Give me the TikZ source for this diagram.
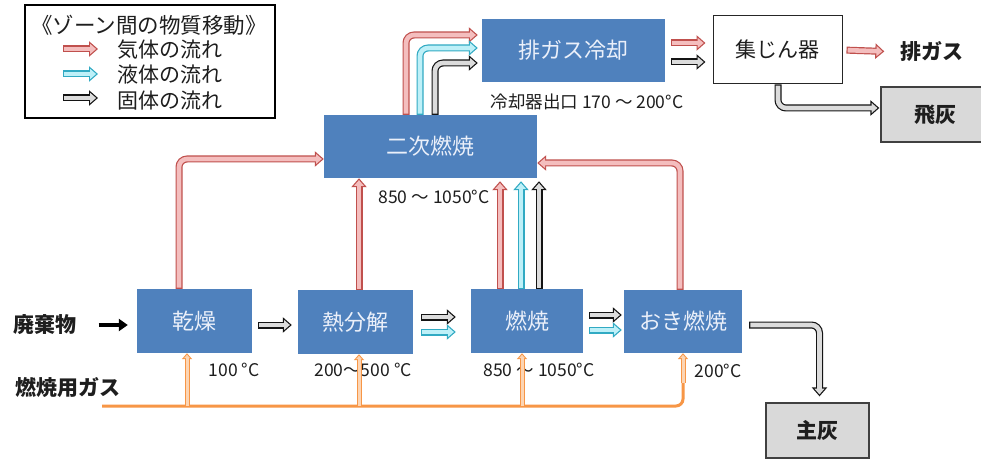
\documentclass[tikz,border=0pt]{standalone}
\usepackage{fontspec}
\setmainfont{Noto Sans CJK JP}
\usetikzlibrary{arrows.meta}
\definecolor{boxblue}{RGB}{79,129,189}
\definecolor{boxtext}{RGB}{235,240,250}
\definecolor{gasline}{RGB}{192,80,77}
\definecolor{gasfill}{RGB}{244,190,190}
\definecolor{liqline}{RGB}{49,170,195}
\definecolor{liqfill}{RGB}{190,240,248}
\definecolor{solline}{RGB}{20,20,20}
\definecolor{solfill}{RGB}{220,220,220}
\definecolor{orline}{RGB}{247,150,70}
\definecolor{orfill}{RGB}{252,213,180}
\definecolor{ashgray}{RGB}{217,217,217}
\definecolor{txt}{RGB}{30,30,30}
% block arrow: outline colour, fill colour, start shortening, end shortening, path
\newcommand{\blockflow}[5]{%
  \draw[flowout, draw=#1, shorten <=#3, shorten >=#4] #5;
  \draw[flowin, draw=#2, shorten <=#3+1.2pt, shorten >=#4+1.9pt] #5;}
\newcommand{\smallflow}[2]{%
  \draw[orout, shorten >=0pt] #2;
  \draw[orin, shorten >=1.6pt] #2;}
\begin{document}
\begin{tikzpicture}[x=1pt,y=-1pt,
  bluebox/.style={fill=boxblue, draw=none, inner sep=0pt, text=boxtext, font=\fontsize{22}{26}\selectfont},
  graybox/.style={fill=ashgray, draw=black!75, line width=1.3pt, inner sep=0pt, text=txt, font=\fontsize{21}{25}\selectfont\bfseries},
  whitebox/.style={fill=white, draw=black!85, line width=1pt, inner sep=0pt, text=txt, font=\fontsize{21}{25}\selectfont},
  lbl/.style={text=txt, inner sep=0pt, font=\fontsize{21}{25}\selectfont},
  blbl/.style={text=txt, inner sep=0pt, font=\fontsize{21}{25}\selectfont\bfseries},
  temp/.style={text=txt, inner sep=0pt, font=\fontsize{17.5}{20}\selectfont},
  flowout/.style={line width=7pt, rounded corners=8pt, -{Triangle[length=9pt,width=15pt]}},
  flowin/.style={line width=4.6pt, rounded corners=8pt, -{Triangle[length=5.9pt,width=9.9pt]}},
  orout/.style={draw=orline, line width=5pt, -{Triangle[length=6pt,width=10pt]}},
  orin/.style={draw=orfill, line width=3pt, -{Triangle[length=3.4pt,width=5.7pt]}},
]
\useasboundingbox (0,0) rectangle (981,462);
\fill[white] (0,0) rectangle (981,462);

% legend
\node[draw=black, line width=1.2pt, minimum width=250pt, minimum height=113pt, inner sep=0pt] (legend) at (150,61.5) {};
\node[lbl, font=\fontsize{21.5}{25}\selectfont] (ltitle) at (149,25) {《ゾーン間の物質移動》};
\coordinate (la1) at (63,49); \coordinate (lb1) at (98,49);
\coordinate (la2) at (63,74); \coordinate (lb2) at (98,74);
\coordinate (la3) at (63,98); \coordinate (lb3) at (98,98);
\blockflow{gasline}{gasfill}{0pt}{0pt}{(la1) -- (lb1)}
\blockflow{liqline}{liqfill}{0pt}{0pt}{(la2) -- (lb2)}
\blockflow{solline}{solfill}{0pt}{0pt}{(la3) -- (lb3)}
\node[lbl, anchor=west] (lt1) at (117,50) {気体の流れ};
\node[lbl, anchor=west] (lt2) at (117,75) {液体の流れ};
\node[lbl, anchor=west] (lt3) at (117,101) {固体の流れ};

% boxes
\node[bluebox, minimum width=183pt, minimum height=63pt] (cool) at (573.5,50.5) {排ガス冷却};
\node[whitebox, minimum width=129pt, minimum height=68pt] (dust) at (777.5,50) {集じん器};
\node[graybox, minimum width=109pt, minimum height=55pt] (fly) at (935.5,114.5) {飛灰};
\node[blbl] (exh) at (932,52) {排ガス};
\node[bluebox, minimum width=213pt, minimum height=63pt] (sec) at (430.5,146.5) {二次燃焼};
\node[bluebox, minimum width=115pt, minimum height=64pt] (dry) at (194.5,321) {乾燥};
\node[bluebox, minimum width=115pt, minimum height=64pt] (pyro) at (355.5,322) {熱分解};
\node[bluebox, minimum width=112pt, minimum height=64pt] (comb) at (527,321) {燃焼};
\node[bluebox, minimum width=118pt, minimum height=63pt] (oki) at (683,321.5) {おき燃焼};
\node[graybox, minimum width=103pt, minimum height=55pt] (ash) at (817.5,430.5) {主灰};

% side labels
\node[blbl] (waste) at (45,325) {廃棄物};
\node[blbl] (gas) at (68,388) {燃焼用ガス};

% temperature labels
\node[temp] (t1) at (234,370) {100 °C};
\node[temp] (t2) at (363,370) {200～500 °C};
\node[temp] (t3) at (539,370) {850 ～ 1050°C};
\node[temp] (t4) at (718,371) {200°C};
\node[temp] (t5) at (434,197) {850 ～ 1050°C};
\node[temp] (t6) at (587,102) {冷却器出口 170 ～ 200°C};

% waste input
\draw[line width=4pt, -{Triangle[length=9pt,width=12pt]}, shorten <=22pt, shorten >=9pt] (waste.east) -- (dry.west |- waste.east);

% combustion gas supply
\coordinate (gstart) at (102,406);
\draw[orline, line width=3pt, rounded corners=7pt] (gstart) -| ([yshift=-30pt]oki.south);
\smallflow{}{([xshift=-7.5pt]dry.south |- gstart) -- ([xshift=-7.5pt]dry.south)}
\smallflow{}{([xshift=3.5pt]pyro.south |- gstart) -- ([xshift=3.5pt]pyro.south)}
\smallflow{}{([xshift=-5pt]comb.south |- gstart) -- ([xshift=-5pt]comb.south)}
\smallflow{}{([yshift=-30pt]oki.south) -- (oki.south)}

% bottom row transfers
\blockflow{solline}{solfill}{6pt}{6pt}{([yshift=-4pt]dry.east) -- ([yshift=-4pt]dry.east -| pyro.west)}
\blockflow{solline}{solfill}{8pt}{15pt}{([yshift=5pt]pyro.east) -- ([yshift=5pt]pyro.east -| comb.west)}
\blockflow{liqline}{liqfill}{8pt}{15pt}{([yshift=-10pt]pyro.east) -- ([yshift=-10pt]pyro.east -| comb.west)}
\blockflow{solline}{solfill}{6pt}{2pt}{([yshift=6pt]comb.east) -- ([yshift=6pt]comb.east -| oki.west)}
\blockflow{liqline}{liqfill}{6pt}{2pt}{([yshift=-9pt]comb.east) -- ([yshift=-9pt]comb.east -| oki.west)}
\blockflow{solline}{solfill}{7pt}{6pt}{([yshift=-3.5pt]oki.east) -| ([xshift=2pt]ash.north)}

% to secondary combustion
\blockflow{gasline}{gasfill}{0pt}{0pt}{([xshift=-15.5pt]dry.north) |- ([yshift=-12.5pt]sec.west)}
\blockflow{gasline}{gasfill}{0pt}{0pt}{([xshift=3.5pt]pyro.north) -- ([xshift=3.5pt]pyro.north |- sec.south)}
\blockflow{gasline}{gasfill}{0pt}{3pt}{([xshift=-27pt]comb.north) -- ([xshift=-27pt]comb.north |- sec.south)}
\blockflow{liqline}{liqfill}{0pt}{3pt}{([xshift=-6pt]comb.north) -- ([xshift=-6pt]comb.north |- sec.south)}
\blockflow{solline}{solfill}{0pt}{3pt}{([xshift=12pt]comb.north) -- ([xshift=12pt]comb.north |- sec.south)}
\blockflow{gasline}{gasfill}{0pt}{0pt}{([xshift=-3pt]oki.north) |- ([yshift=-16.5pt]sec.east)}

% to exhaust gas cooling
\blockflow{gasline}{gasfill}{0pt}{4pt}{([xshift=-24.5pt]sec.north) |- ([yshift=15.5pt]cool.west)}
\blockflow{liqline}{liqfill}{0pt}{4pt}{([xshift=-10.5pt]sec.north) |- ([yshift=2.5pt]cool.west)}
\blockflow{solline}{solfill}{0pt}{4pt}{([xshift=4.5pt]sec.north) |- ([yshift=-12.5pt]cool.west)}

% cooling to dust collector
\blockflow{gasline}{gasfill}{6pt}{7pt}{([yshift=7.5pt]cool.east) -- ([yshift=7.5pt]cool.east -| dust.west)}
\blockflow{solline}{solfill}{6pt}{7pt}{([yshift=-11.5pt]cool.east) -- ([yshift=-11.5pt]cool.east -| dust.west)}

% dust collector outputs
\blockflow{gasline}{gasfill}{4pt}{16pt}{(dust.east) -- (exh.west)}
\blockflow{solline}{solfill}{0pt}{1pt}{([xshift=0.5pt]dust.south) |- ([yshift=6.5pt]fly.west)}
\end{tikzpicture}
\end{document}
